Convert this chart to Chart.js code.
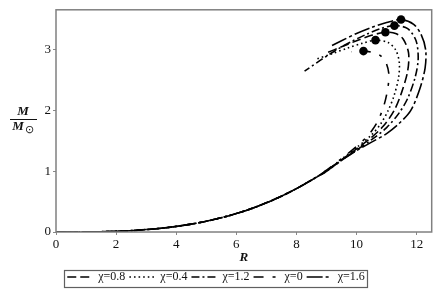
<!DOCTYPE html>
<html><head><meta charset="utf-8">
<script src="https://cdn.jsdelivr.net/npm/chart.js@4/dist/chart.umd.min.js"></script>
<style>html,body{margin:0;padding:0;background:#fff}#wrap{width:436px;height:295px}</style>
</head><body><div id="wrap"><canvas id="c" width="436" height="295"></canvas></div>
<script>
// ---- data (R in km, M in solar masses) ----
const seriesLabels = ['χ=0.8', 'χ=0.4', 'χ=1.2', 'χ=0', 'χ=1.6'];

const lowR = [0, 0.5, 1, 1.5, 2, 2.5, 3, 3.5, 4, 4.5, 5, 5.5, 6, 6.5, 7, 7.5, 8, 8.5];
const lowM = [0, 0.0002, 0.0014, 0.005, 0.011, 0.022, 0.04, 0.062, 0.092, 0.13, 0.177, 0.235, 0.303, 0.385, 0.48, 0.59, 0.715, 0.855];

const r_chi0  = [9, 9.5, 10, 10.4, 10.7, 10.92, 11.05, 11.07, 10.97, 10.78, 10.5, 10.23, 10.0, 9.83];
const m_chi0  = [1.02, 1.21, 1.41, 1.60, 1.82, 2.10, 2.40, 2.62, 2.80, 2.91, 2.96, 2.98, 2.975, 2.97];

const r_chi04 = [9, 9.5, 10, 10.5, 10.8, 11.05, 11.25, 11.4, 11.42, 11.3, 11.05, 10.63, 10.2, 9.7, 9.2, 8.67];
const m_chi04 = [1.01, 1.20, 1.39, 1.60, 1.78, 2.00, 2.25, 2.55, 2.80, 3.00, 3.12, 3.16, 3.11, 3.03, 2.94, 2.85];

const r_chi08 = [9, 9.5, 10, 10.5, 10.9, 11.25, 11.5, 11.7, 11.73, 11.55, 11.3, 10.96, 10.5, 10.0, 9.5, 9.0];
const m_chi08 = [1.01, 1.19, 1.37, 1.56, 1.75, 2.00, 2.30, 2.65, 2.95, 3.18, 3.27, 3.29, 3.24, 3.15, 3.05, 2.95];

const r_chi12 = [9, 9.5, 10, 10.5, 11.0, 11.4, 11.7, 11.95, 12.05, 11.98, 11.7, 11.26, 10.8, 10.3, 9.8, 9.3, 8.8, 8.27];
const m_chi12 = [1.0, 1.18, 1.35, 1.52, 1.72, 1.95, 2.20, 2.55, 2.85, 3.15, 3.35, 3.40, 3.35, 3.25, 3.13, 2.99, 2.83, 2.65];

const r_chi16 = [9, 9.5, 10, 10.5, 11.0, 11.4, 11.8, 12.1, 12.28, 12.3, 12.15, 11.9, 11.48, 11.0, 10.5, 10.0, 9.5, 9.1];
const m_chi16 = [1.0, 1.18, 1.34, 1.48, 1.62, 1.78, 2.00, 2.35, 2.70, 3.00, 3.25, 3.42, 3.50, 3.45, 3.37, 3.27, 3.15, 3.05];

const peakR = [11.48, 11.26, 10.96, 10.63, 10.23];
const peakM = [3.50, 3.40, 3.29, 3.16, 2.98];

const xTicks = [0, 2, 4, 6, 8, 10, 12];
const yTicks = [0, 1, 2, 3];

// ---- build ----
const FONT = '"Liberation Serif", "Times New Roman", serif';
Chart.defaults.font.family = FONT;
function pts(r, m) {
  const all = lowR.map((x, i) => ({x: x, y: lowM[i]}));
  return all.concat(r.map((x, i) => ({x: x, y: m[i]})));
}
const curves = [
  {label: seriesLabels[0], data: pts(r_chi08, m_chi08), dash: [9, 4]},
  {label: seriesLabels[1], data: pts(r_chi04, m_chi04), dash: [1.6, 3]},
  {label: seriesLabels[2], data: pts(r_chi12, m_chi12), dash: [8, 3, 2, 3]},
  {label: seriesLabels[3], data: pts(r_chi0,  m_chi0),  dash: [10, 9, 3, 9]},
  {label: seriesLabels[4], data: pts(r_chi16, m_chi16), dash: [16, 3, 3, 3]}
];
const datasets = curves.map(c => ({
  type: 'scatter', label: c.label, data: c.data, showLine: true,
  borderColor: '#000', backgroundColor: '#000', borderWidth: 1.6,
  borderDash: c.dash, pointRadius: 0, pointHoverRadius: 0, tension: 0.3, fill: false
}));
datasets.push({
  type: 'scatter', label: 'peak', data: peakR.map((x, i) => ({x: x, y: peakM[i]})),
  showLine: false, pointRadius: 4.3, backgroundColor: '#000', borderColor: '#000', borderWidth: 0
});

const framePlugin = {
  id: 'frame',
  afterDraw(chart) {
    const ctx = chart.ctx, a = chart.chartArea;
    ctx.save();
    ctx.strokeStyle = '#808080'; ctx.lineWidth = 1.5; ctx.setLineDash([]);
    ctx.strokeRect(a.left, a.top, a.right - a.left, a.bottom - a.top);
    // legend border
    const hb = chart.legend.legendHitBoxes;
    if (hb && hb.length) {
      let l = Infinity, r = -Infinity, t = Infinity, b = -Infinity;
      hb.forEach(h => { l = Math.min(l, h.left); r = Math.max(r, h.left + h.width); t = Math.min(t, h.top); b = Math.max(b, h.top + h.height); });
      ctx.strokeStyle = '#606060'; ctx.lineWidth = 1.2;
      ctx.strokeRect(Math.round(l - 3) + 0.5, Math.round(t - 1) + 0.5, Math.round(r - l + 6), Math.round(b - t + 5));
    }
    // y-axis title as a fraction M / M_sun
    ctx.fillStyle = '#111';
    ctx.textAlign = 'center'; ctx.textBaseline = 'middle';
    ctx.font = 'italic bold 13px ' + FONT;
    ctx.fillText('M', 23, 112);
    ctx.beginPath(); ctx.moveTo(10, 119.5); ctx.lineTo(37, 119.5);
    ctx.strokeStyle = '#111'; ctx.lineWidth = 1; ctx.stroke();
    ctx.fillText('M', 18, 127);
    ctx.font = '11px ' + FONT;
    ctx.fillText('⊙', 29, 130);
    ctx.restore();
  }
};

new Chart(document.getElementById('c'), {
  type: 'scatter',
  data: {datasets: datasets},
  plugins: [framePlugin],
  options: {
    responsive: false, animation: false, devicePixelRatio: 1,
    layout: {padding: {left: 0, right: 4, top: 5, bottom: 2}},
    plugins: {
      tooltip: {enabled: false},
      legend: {
        position: 'bottom',
        labels: {
          color: '#111', font: {family: FONT, size: 12}, padding: 4,
          usePointStyle: true, pointStyleWidth: 25,
          filter: item => item.text !== 'peak',
          generateLabels: chart => chart.data.datasets.map((ds, i) => ({
            text: ds.label, fillStyle: 'rgba(0,0,0,0)', strokeStyle: '#000',
            lineWidth: 1.6, lineDash: ds.borderDash || [], pointStyle: 'line',
            hidden: false, datasetIndex: i, fontColor: '#111'
          }))
        }
      }
    },
    scales: {
      x: {
        type: 'linear', min: 0, max: 12.5,
        afterBuildTicks: s => { s.ticks = xTicks.map(v => ({value: v})); },
        afterFit: s => { s.height = 35; },
        ticks: {color: '#111', font: {family: FONT, size: 13}, padding: 2, maxRotation: 0},
        grid: {display: true, drawOnChartArea: false, drawTicks: true, tickLength: 3, color: '#888'},
        border: {display: false},
        title: {display: true, text: 'R', color: '#111', font: {family: FONT, size: 13, style: 'italic', weight: 'bold'}, padding: {top: 0, bottom: 2}}
      },
      y: {
        type: 'linear', min: 0, max: 3.66,
        afterBuildTicks: s => { s.ticks = yTicks.map(v => ({value: v})); },
        afterFit: s => { s.width = 56; },
        ticks: {color: '#111', font: {family: FONT, size: 13}, padding: 2},
        grid: {display: true, drawOnChartArea: false, drawTicks: true, tickLength: 3, color: '#888'},
        border: {display: false},
        title: {display: false}
      }
    }
  }
});
</script></body></html>
